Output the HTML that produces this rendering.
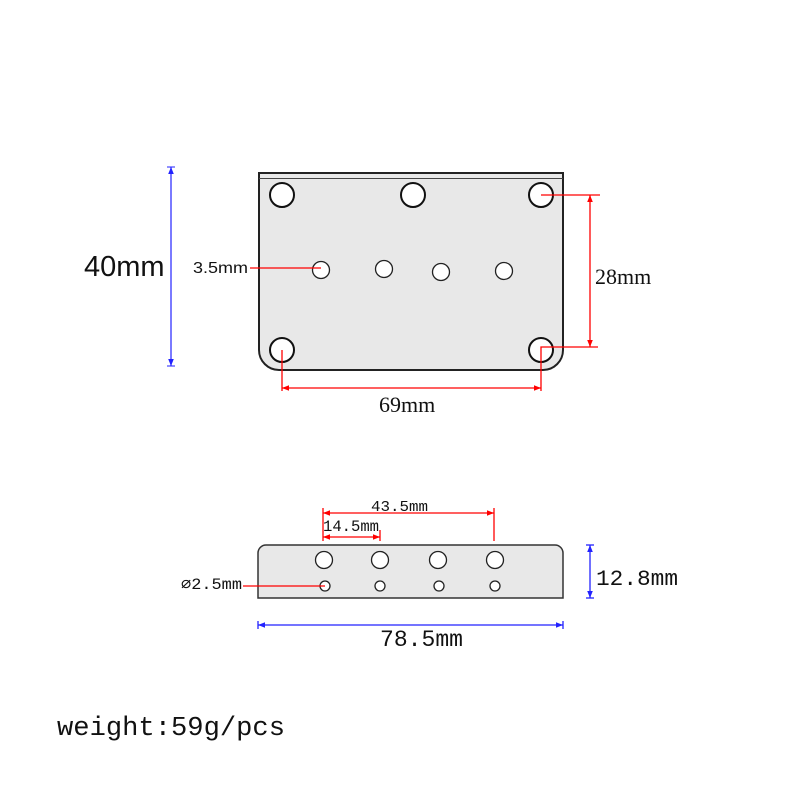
<!DOCTYPE html>
<html><head><meta charset="utf-8"><style>
html,body{margin:0;padding:0;background:#fff}
svg{display:block}
</style></head><body>
<svg width="800" height="800" viewBox="0 0 800 800" xmlns="http://www.w3.org/2000/svg">
<defs>
<marker id="ar" viewBox="0 0 10 10" refX="10" refY="5" markerWidth="9" markerHeight="7" orient="auto-start-reverse" markerUnits="userSpaceOnUse"><path d="M0,1 L10,5 L0,9 Z" fill="#f00"/></marker>
<marker id="ab" viewBox="0 0 10 10" refX="10" refY="5" markerWidth="9" markerHeight="7" orient="auto-start-reverse" markerUnits="userSpaceOnUse"><path d="M0,1 L10,5 L0,9 Z" fill="#22f"/></marker>
</defs>
<path d="M259,173 H563 V350 A20,20 0 0 1 543,370 H279 A20,20 0 0 1 259,350 Z" fill="#e8e8e8" stroke="#222" stroke-width="2"/>
<line x1="259" y1="178.5" x2="563" y2="178.5" stroke="#444" stroke-width="1"/>
<g fill="#fff" stroke="#111" stroke-width="2">
<circle cx="282" cy="195" r="12"/><circle cx="413" cy="195" r="12"/><circle cx="541" cy="195" r="12"/>
<circle cx="282" cy="350" r="12"/><circle cx="541" cy="350" r="12"/>
</g>
<g fill="#fff" stroke="#222" stroke-width="1.3">
<circle cx="321" cy="270" r="8.5"/><circle cx="384" cy="269" r="8.5"/><circle cx="441" cy="272" r="8.5"/><circle cx="504" cy="271" r="8.5"/>
</g>
<line x1="171" y1="167" x2="171" y2="366" stroke="#22f" stroke-width="1.2" marker-start="url(#ab)" marker-end="url(#ab)"/>
<line x1="167" y1="167" x2="175" y2="167" stroke="#22f"/><line x1="167" y1="366" x2="175" y2="366" stroke="#22f"/>
<text x="84" y="276" font-family="Liberation Sans, sans-serif" font-size="29" fill="#111">40mm</text>
<line x1="250" y1="268" x2="321" y2="268" stroke="#f00" stroke-width="1.3"/>
<text x="193" y="273" font-family="Liberation Sans, sans-serif" font-size="16" textLength="55" lengthAdjust="spacingAndGlyphs" fill="#111">3.5mm</text>
<g stroke="#f00" stroke-width="1.3" fill="none">
<line x1="541" y1="195" x2="600" y2="195"/>
<polyline points="541,391 541,347 598,347"/>
<line x1="590" y1="195" x2="590" y2="347" marker-start="url(#ar)" marker-end="url(#ar)"/>
<line x1="282" y1="350" x2="282" y2="391"/>
<line x1="282" y1="388" x2="541" y2="388" marker-start="url(#ar)" marker-end="url(#ar)"/>
</g>
<text x="595" y="284" font-family="Liberation Serif, serif" font-size="22" fill="#111">28mm</text>
<text x="379" y="412" font-family="Liberation Serif, serif" font-size="22" fill="#111">69mm</text>
<path d="M258,598 V553 A8,8 0 0 1 266,545 H555 A8,8 0 0 1 563,553 V598 Z" fill="#e8e8e8" stroke="#333" stroke-width="1.5"/>
<g fill="#fff" stroke="#222" stroke-width="1.3">
<circle cx="324" cy="560" r="8.5"/><circle cx="380" cy="560" r="8.5"/><circle cx="438" cy="560" r="8.5"/><circle cx="495" cy="560" r="8.5"/>
<circle cx="325" cy="586" r="5"/><circle cx="380" cy="586" r="5"/><circle cx="439" cy="586" r="5"/><circle cx="495" cy="586" r="5"/>
</g>
<g stroke="#f00" stroke-width="1.3" fill="none">
<line x1="323" y1="508" x2="323" y2="541"/>
<line x1="494" y1="508" x2="494" y2="541"/>
<line x1="380" y1="530" x2="380" y2="541"/>
<line x1="323" y1="513" x2="494" y2="513" marker-start="url(#ar)" marker-end="url(#ar)"/>
<line x1="323" y1="537" x2="380" y2="537" marker-start="url(#ar)" marker-end="url(#ar)"/>
<line x1="243" y1="586" x2="325" y2="586"/>
</g>
<text x="371" y="511" font-family="Liberation Mono, monospace" font-size="15" textLength="57" lengthAdjust="spacingAndGlyphs" fill="#111">43.5mm</text>
<text x="323" y="531" font-family="Liberation Mono, monospace" font-size="16" textLength="56" lengthAdjust="spacingAndGlyphs" fill="#111">14.5mm</text>
<text x="181" y="589" font-family="Liberation Mono, monospace" font-size="16" textLength="61" lengthAdjust="spacingAndGlyphs" fill="#111">&#8709;2.5mm</text>
<g stroke="#22f" stroke-width="1.3">
<line x1="590" y1="545" x2="590" y2="598" marker-start="url(#ab)" marker-end="url(#ab)"/>
<line x1="586" y1="545" x2="594" y2="545"/><line x1="586" y1="598" x2="594" y2="598"/>
<line x1="258" y1="625" x2="563" y2="625" marker-start="url(#ab)" marker-end="url(#ab)"/>
<line x1="258" y1="621" x2="258" y2="629"/><line x1="563" y1="621" x2="563" y2="629"/>
</g>
<text x="596" y="585" font-family="Liberation Mono, monospace" font-size="22" textLength="82" lengthAdjust="spacingAndGlyphs" fill="#111">12.8mm</text>
<text x="380" y="646" font-family="Liberation Mono, monospace" font-size="23" textLength="83" lengthAdjust="spacingAndGlyphs" fill="#111">78.5mm</text>
<text x="57" y="735" font-family="Liberation Mono, monospace" font-size="27" textLength="228" lengthAdjust="spacingAndGlyphs" fill="#111">weight:59g/pcs</text>
</svg>
</body></html>
